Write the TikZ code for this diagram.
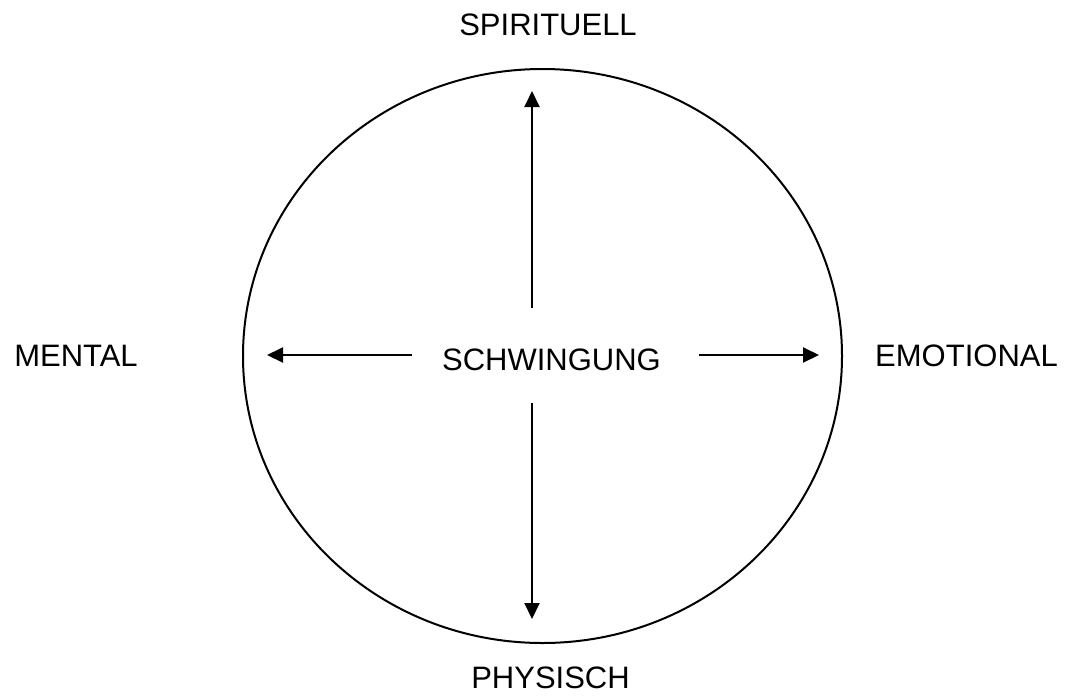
\documentclass[tikz,border=0pt]{standalone}
\usepackage{fontspec}
\setmainfont{Liberation Sans}
\usetikzlibrary{arrows.meta}
\begin{document}
\begin{tikzpicture}[x=1pt,y=-1pt,
  lbl/.style={anchor=base,inner sep=0pt,font=\fontsize{31}{36}\selectfont},
  arr/.style={line width=2pt,-{Triangle[length=16pt,width=15pt]}}]
\useasboundingbox (0,0) rectangle (1071,697);
\draw[line width=2pt] (542.5,356) ellipse [x radius=299.5, y radius=287];
\node[lbl] (sp) at (548,35) {SPIRITUELL};
\node[lbl] (ph) at (550.5,688) {PHYSISCH};
\node[lbl] (me) at (76,366) {MENTAL};
\node[lbl] (em) at (966.5,366) {EMOTIONAL};
\node[lbl] (sc) at (551.5,370) {SCHWINGUNG};
\coordinate (u0) at (532,308);
\coordinate (u1) at (532,91);
\coordinate (d0) at (532,403);
\coordinate (d1) at (532,619);
\coordinate (l0) at (412,355);
\coordinate (l1) at (267,355);
\coordinate (r0) at (699,355);
\coordinate (r1) at (819,355);
\draw[arr] (u0) -- (u1);
\draw[arr] (d0) -- (d1);
\draw[arr] (l0) -- (l1);
\draw[arr] (r0) -- (r1);
\end{tikzpicture}
\end{document}
